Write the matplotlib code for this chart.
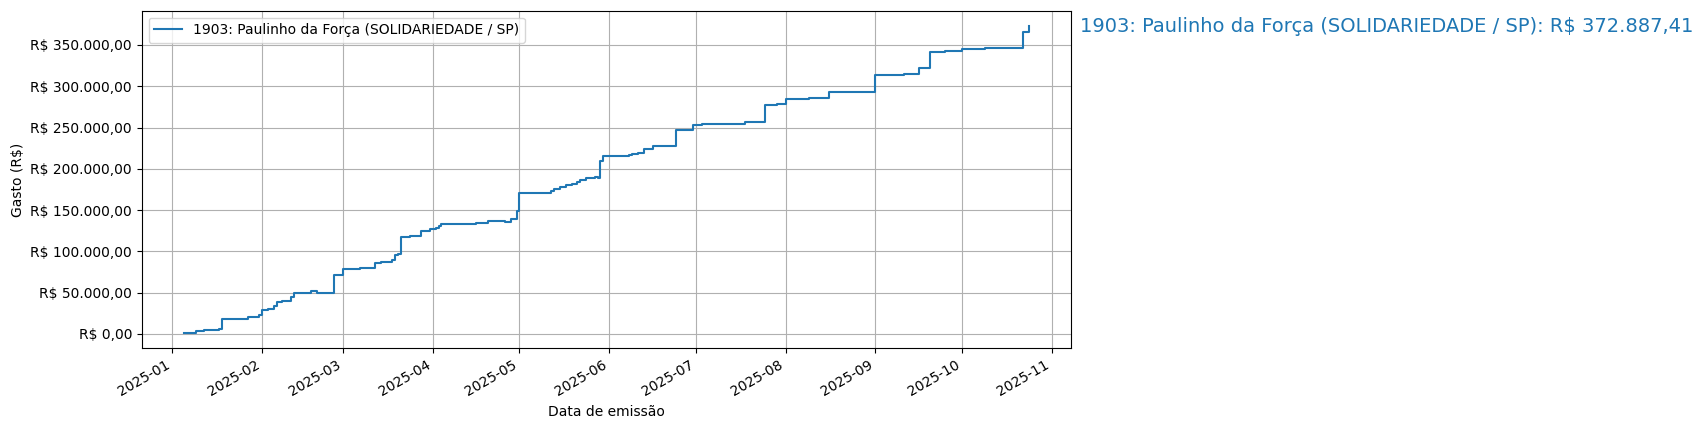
import pandas as pd
import matplotlib
matplotlib.use('Agg')
import matplotlib.pyplot as plt
import matplotlib.dates as mdates
from matplotlib.ticker import FuncFormatter

# Gasto acumulado por data de emissão
datas = [
    '2025-01-05', '2025-01-09', '2025-01-12', '2025-01-17', '2025-01-18', '2025-01-27',
    '2025-01-31', '2025-02-01', '2025-02-03', '2025-02-05', '2025-02-06', '2025-02-08',
    '2025-02-11', '2025-02-12', '2025-02-18', '2025-02-20', '2025-02-26', '2025-03-01',
    '2025-03-07', '2025-03-12', '2025-03-14', '2025-03-18', '2025-03-19', '2025-03-20',
    '2025-03-21', '2025-03-24', '2025-03-28', '2025-03-31', '2025-04-02', '2025-04-03',
    '2025-04-04', '2025-04-16', '2025-04-20', '2025-04-26', '2025-04-28', '2025-04-30',
    '2025-05-01', '2025-05-12', '2025-05-13', '2025-05-15', '2025-05-17', '2025-05-19',
    '2025-05-21', '2025-05-22', '2025-05-24', '2025-05-27', '2025-05-28', '2025-05-29',
    '2025-05-30', '2025-06-08', '2025-06-09', '2025-06-11', '2025-06-13', '2025-06-16',
    '2025-06-24', '2025-06-30', '2025-07-03', '2025-07-18', '2025-07-25', '2025-07-29',
    '2025-08-01', '2025-08-09', '2025-08-16', '2025-09-01', '2025-09-11', '2025-09-16',
    '2025-09-20', '2025-09-25', '2025-10-01', '2025-10-09', '2025-10-22', '2025-10-24',
]
valores = [
    1200, 3600, 4800, 6400, 18400, 20400,
    22400, 28800, 30400, 33600, 38800, 40000,
    44800, 50000, 51600, 50000, 71200, 78400,
    79600, 85600, 86800, 89200, 95600, 96800,
    118000, 119200, 124300, 127600, 128800, 130800,
    133600, 134800, 137200, 136000, 139600, 149200,
    170800, 173200, 175600, 178000, 180000, 181600,
    184400, 186400, 188800, 190000, 188400, 209200,
    215200, 216800, 218400, 219600, 224400, 227200,
    247600, 253200, 254400, 256800, 277200, 278400,
    284400, 285600, 293200, 313600, 314800, 321600,
    341200, 343200, 344800, 346000, 365200, 372887.41,
]
rotulo = '1903: Paulinho da Força (SOLIDARIEDADE / SP)'


def formata_reais(v, pos=None):
    s = f'{v:,.2f}'.replace(',', 'X').replace('.', ',').replace('X', '.')
    return f'R$ {s}'


df = pd.DataFrame({'data': pd.to_datetime(datas), 'gasto': valores})

fig = plt.figure(figsize=(17.02, 4.30), dpi=100)
ax = fig.add_axes([0.0833, 0.19, 0.5458, 0.785])
ax.plot(df['data'], df['gasto'], drawstyle='steps-post', label=rotulo)

total = df['gasto'].iloc[-1]
ax.text(1.01, total, f'{rotulo}: {formata_reais(total)}', transform=ax.get_yaxis_transform(),
        va='center', ha='left', fontsize=14, color='C0', clip_on=False)

ax.yaxis.set_major_formatter(FuncFormatter(formata_reais))
ax.xaxis.set_major_locator(mdates.MonthLocator())
ax.xaxis.set_major_formatter(mdates.DateFormatter('%Y-%m'))
for lbl in ax.get_xticklabels():
    lbl.set_rotation(30)
    lbl.set_ha('right')

ax.set_xlabel('Data de emissão')
ax.set_ylabel('Gasto (R$)')
ax.grid(True)
ax.legend(loc='upper left')

fig.savefig('out.png', dpi=100)
plt.close(fig)
